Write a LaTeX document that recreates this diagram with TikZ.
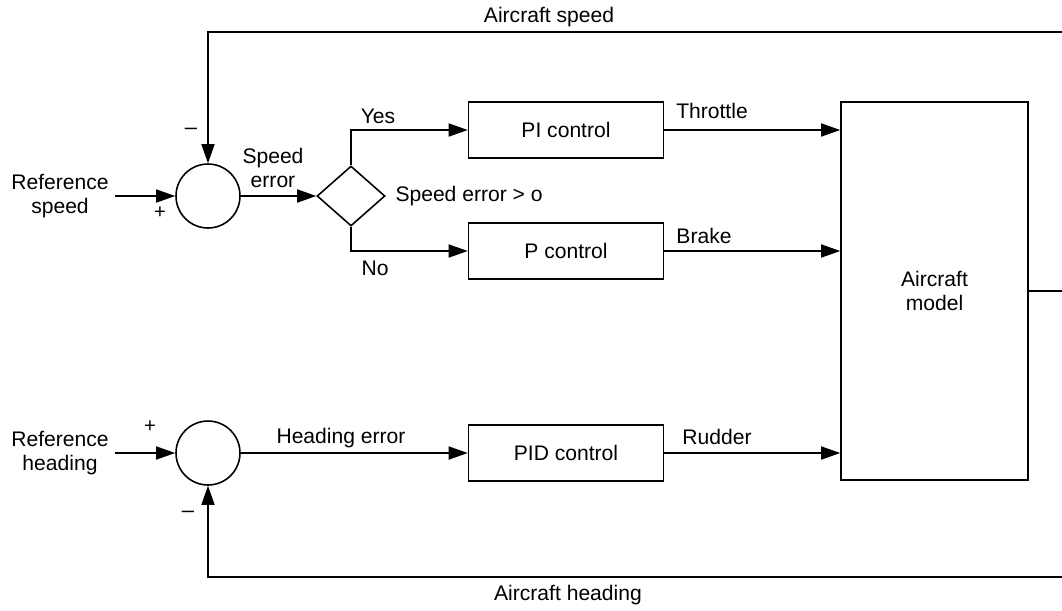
\documentclass[tikz,border=0pt]{standalone}
\usepackage{fontspec}
\setmainfont{Liberation Sans}
\usetikzlibrary{arrows.meta,positioning,shapes.geometric}
\tikzset{
  blk/.style={rectangle,draw,line width=0.9pt,minimum width=3.9cm,
    minimum height=1.12cm,align=center},
  sumnode/.style={circle,draw,line width=0.9pt,minimum size=1.28cm,inner sep=0pt},
  decide/.style={diamond,draw,line width=0.9pt,minimum width=1.36cm,
    minimum height=1.2cm,inner sep=0pt},
  lbl/.style={align=center},
  sgn/.style={font=\fontsize{11.5}{12}\selectfont,inner sep=1pt},
  minus/.style={font=\fontsize{12.5}{12}\selectfont,inner sep=1pt},
  % signal lines end in solid triangles
  arr/.style={-{Triangle[length=3.8mm,width=2.6mm]},line width=0.9pt},
  ln/.style={line width=0.9pt}
}

\begin{document}
\begin{tikzpicture}[x=0.02cm,y=-0.02cm,font=\fontsize{12}{14}\selectfont]
  \useasboundingbox (0,0) rectangle (1062,610);
  % speed loop
  \node[lbl] (refs) at (60,196) {Reference\\speed};
  \node[sumnode] (sum1) at (208,196) {};
  \node[decide] (dec) at (351,196) {};
  \node[blk] (pi) at (566,130) {PI control};
  \node[blk] (p) at (566,251) {P control};
  \node[blk,minimum width=3.74cm,minimum height=7.56cm] (model) at (934.5,291) {Aircraft\\model};
  % heading loop
  \node[lbl] (refh) at (60,453) {Reference\\heading};
  \node[sumnode] (sum2) at (208,453) {};
  \node[blk] (pid) at (566,453) {PID control};
  % loose ends at the right margin
  \coordinate (rs) at (1062,32);
  \coordinate (ro) at (1062,291);
  \coordinate (rh) at (1062,577);

  \draw[arr] (refs) -- (sum1);
  \draw[arr] (sum1) -- (dec);
  \draw[arr] (dec.north) |- (pi);
  \draw[arr] (dec.south) |- (p);
  \draw[arr] (pi) -- (pi -| model.west);
  \draw[arr] (p) -- (p -| model.west);
  \draw[arr] (refh) -- (sum2);
  \draw[arr] (sum2) -- (pid);
  \draw[arr] (pid) -- (pid -| model.west);
  \draw[ln] (model) -- (ro);
  \draw[arr] (rs) -| (sum1);
  \draw[arr] (rh) -| (sum2);

  % labels
  \node (spd) at (549,17) {Aircraft speed};
  \node (hdg) at (568,595) {Aircraft heading};
  \node[lbl] (serr) at (273,168) {Speed\\error};
  \node (yes) at (378,116) {Yes};
  \node (no) at (375,268) {No};
  \node[right=2pt of dec] (cond) {Speed error > o};
  \node (thr) at (712,111) {Throttle};
  \node (brk) at (704,236) {Brake};
  \node (rud) at (717,437) {Rudder};
  \node (herr) at (341,438) {Heading error};
  \node[minus] (m1) at (191,131) {–};
  \node[sgn] (p1) at (160,213) {+};
  \node[sgn] (p2) at (150,427) {+};
  \node[minus] (m2) at (188,514) {–};
\end{tikzpicture}
\end{document}
